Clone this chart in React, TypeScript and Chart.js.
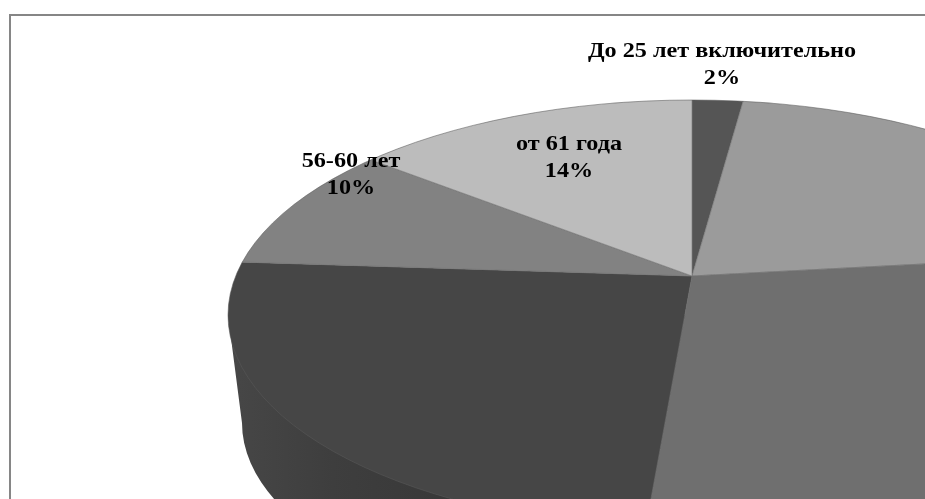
import React, { useEffect, useRef } from "react";
import { Chart, registerables } from "chart.js";

Chart.register(...registerables);

const categories = ["До 25 лет включительно", "26-35 лет", "36-45 лет", "46-55 лет", "56-60 лет", "от 61 года"];
const shares = [1.9, 21.1, 28.2, 25.0, 10.3, 13.5];
const sliceColors = ["#555555", "#9b9b9b", "#6f6f6f", "#464646", "#828282", "#bcbcbc"];
const labelCenters: ([number, number] | null)[] = [[722, 57], null, null, null, [351, 167], [569, 150]];

const W = 925;
const H = 499;
const APEX = { x: 692, y: 276 };
const TILT = 0.41;
const TOP_FACE = { x: 692, y: 315, rx: 464, ry: 215 };
const BOTTOM_FACE = { x: 692, y: 423, rx: 450, ry: 205 };
const TEXT_STRETCH = 1.1;

function topFacePath(ctx: CanvasRenderingContext2D) {
  ctx.beginPath();
  ctx.ellipse(TOP_FACE.x, TOP_FACE.y, TOP_FACE.rx, TOP_FACE.ry, 0, 0, Math.PI * 2);
}

const pie3d = {
  id: "pie3d",
  beforeDatasetsDraw(chart: any) {
    const ctx: CanvasRenderingContext2D = chart.ctx;
    ctx.save();
    ctx.strokeStyle = "#868686";
    ctx.lineWidth = 2;
    ctx.strokeRect(10, 15, W + 40, H + 40);
    ctx.restore();

    ctx.save();
    const wall = ctx.createLinearGradient(228, 0, 460, 0);
    wall.addColorStop(0, "#474747");
    wall.addColorStop(0.45, "#3e3e3e");
    wall.addColorStop(1, "#383838");
    ctx.fillStyle = wall;
    ctx.beginPath();
    ctx.moveTo(TOP_FACE.x - TOP_FACE.rx, TOP_FACE.y);
    ctx.lineTo(BOTTOM_FACE.x - BOTTOM_FACE.rx, BOTTOM_FACE.y);
    ctx.ellipse(BOTTOM_FACE.x, BOTTOM_FACE.y, BOTTOM_FACE.rx, BOTTOM_FACE.ry, 0, Math.PI, Math.PI / 2, true);
    ctx.lineTo(TOP_FACE.x, TOP_FACE.y);
    ctx.closePath();
    ctx.fill();
    ctx.restore();

    ctx.save();
    topFacePath(ctx);
    ctx.clip();
    ctx.translate(APEX.x, APEX.y);
    ctx.scale(1, TILT);
    ctx.translate(-APEX.x, -APEX.y);
  },
  afterDatasetsDraw(chart: any) {
    const ctx: CanvasRenderingContext2D = chart.ctx;
    ctx.restore();

    ctx.save();
    topFacePath(ctx);
    ctx.strokeStyle = "rgba(90,90,90,0.55)";
    ctx.lineWidth = 1;
    ctx.stroke();
    ctx.restore();

    labelCenters.forEach((pos, i) => {
      if (!pos) return;
      ctx.save();
      ctx.fillStyle = "#000000";
      ctx.font = "bold 22px 'Liberation Serif'";
      ctx.textAlign = "center";
      ctx.textBaseline = "alphabetic";
      ctx.translate(pos[0], pos[1]);
      ctx.scale(TEXT_STRETCH, 1);
      ctx.fillText(categories[i], 0, 0);
      ctx.fillText(`${Math.round(shares[i])}%`, 0, 27);
      ctx.restore();
    });
  },
};

export default function App() {
  const ref = useRef<HTMLCanvasElement>(null);
  useEffect(() => {
    document.body.style.margin = "0";
    document.body.style.background = "#ffffff";
    const chart = new Chart(ref.current!, {
      type: "pie",
      data: {
        labels: categories,
        datasets: [
          {
            data: shares,
            backgroundColor: sliceColors,
            borderColor: "rgba(115,115,115,0.8)",
            borderWidth: 1,
            clip: false,
          } as any,
        ],
      },
      options: {
        responsive: false,
        animation: false,
        devicePixelRatio: 1,
        radius: 900,
        layout: { padding: { left: 2 * APEX.x - W, top: 2 * APEX.y - H, right: 0, bottom: 0 } },
        plugins: { legend: { display: false }, tooltip: { enabled: false }, title: { display: false } },
      } as any,
      plugins: [pie3d],
    });
    return () => chart.destroy();
  }, []);
  return <canvas ref={ref} width={W} height={H} style={{ display: "block", position: "absolute", left: 0, top: 0 }} />;
}
